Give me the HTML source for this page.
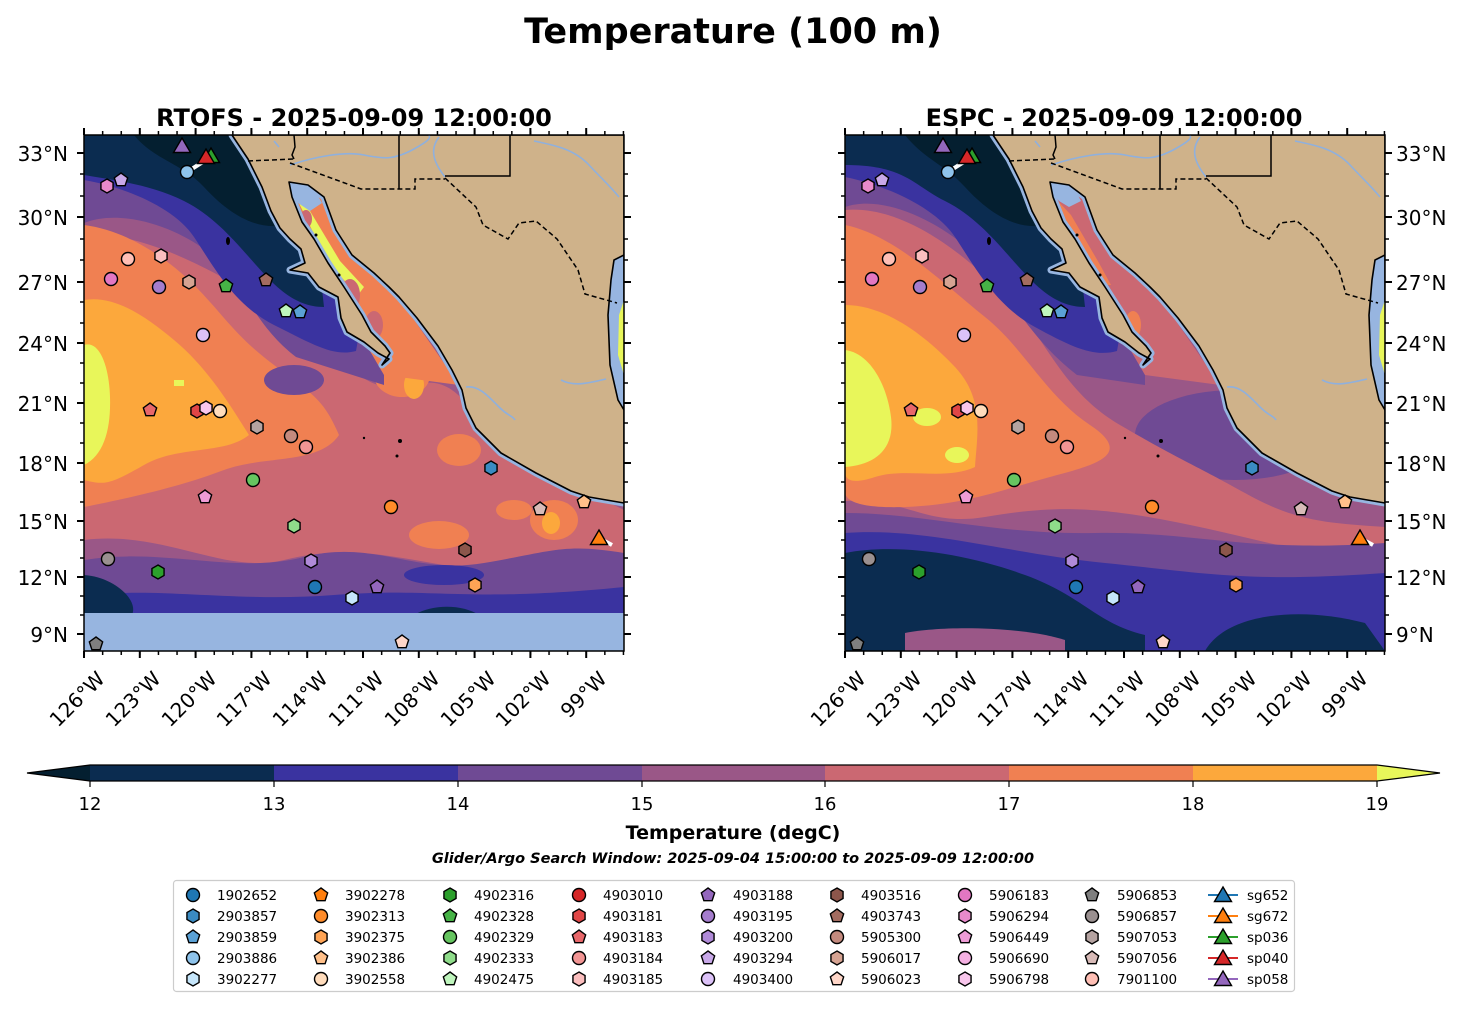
<!DOCTYPE html>
<html><head><meta charset="utf-8"><style>
html,body{margin:0;padding:0;background:#fff;}
svg{display:block;font-family:"DejaVu Sans","Liberation Sans",sans-serif;}
</style></head><body>
<svg width="1467" height="1014" viewBox="0 0 1467 1014" xmlns="http://www.w3.org/2000/svg">
<defs>
<clipPath id="pc"><rect x="0" y="0" width="540" height="516"/></clipPath>
<path id="c" d="M0,-6.5 A6.5,6.5 0 1 1 0,6.5 A6.5,6.5 0 1 1 0,-6.5Z" stroke="#000" stroke-width="1.4"/>
<path id="h" d="M0,-7 L6.06,-3.5 L6.06,3.5 L0,7 L-6.06,3.5 L-6.06,-3.5Z" stroke="#000" stroke-width="1.4"/>
<path id="p" d="M0,-7 L6.66,-2.16 L4.11,5.66 L-4.11,5.66 L-6.66,-2.16Z" stroke="#000" stroke-width="1.4"/>
<path id="t" d="M0,-9 L8.5,5.5 L-8.5,5.5Z" stroke="#000" stroke-width="1.4"/>

<path id="coastp" d="M148,0 L164,24 178,52 187,76 196,93 206,104 217,114 221,128 206,135 224,138 235,152 254,162 257,183 263,197 280,207 294,218 305,224 298,230 306,218 301,211 287,197 278,180 260,152 244,128 230,104 218,87 208,62 205,47 224,50 240,62 252,95 268,120 290,138 305,152 315,162 333,183 354,211 368,235 378,255 382,273 392,293 417,318 452,338 487,356 505,362 540,368 L540,0Z"/>

<g id="land">
<use href="#coastp" fill="none" stroke="#97b5e0" stroke-width="7" stroke-linejoin="round"/>
<use href="#coastp" fill="#cfb28a" stroke="#000" stroke-width="1.6" stroke-linejoin="round"/>
<path d="M540,120 L530,125 L527,145 L524,180 L526,230 L534,265 L540,275Z" fill="#97b5e0" stroke="#000" stroke-width="1.6"/>
<path d="M540,165 L535,180 L534,220 L540,240Z" fill="#e8f65a"/>
<g fill="none" stroke="#8fb0dd" stroke-width="1.6">
<path d="M206,30 C230,22 260,16 280,20 S310,25 330,14 S345,2 345,0"/>
<path d="M355,2 C345,15 350,28 361,42"/>
<path d="M450,6 C470,10 490,14 505,30 S525,50 535,62"/>
<path d="M382,252 C395,250 405,262 415,272 S428,280 431,285"/>
<path d="M477,245 C490,252 505,248 522,244"/>
<path d="M190,6 L195,12"/>
</g>
<g fill="none" stroke="#000" stroke-width="1.5">
<path d="M210,0 L211,12 L208,20 L210,24"/>
<path d="M315,0 L315,54"/>
<path d="M361,41 L426,41 L426,0"/>
</g>
<g fill="none" stroke="#000" stroke-width="1.5" stroke-dasharray="5,3">
<path d="M164,26 L210,24"/>
<path d="M206,28 L277,54 L331,54 L331,44 L361,44"/>
<path d="M361,43 L392,72 L399,90 L424,104 L435,88 L452,86 L473,104 L494,135 L501,159 L533,168"/>
</g>
<g fill="#000"><circle cx="316" cy="306" r="2"/><circle cx="313" cy="321" r="1.5"/><circle cx="280" cy="303" r="1.2"/><ellipse cx="144" cy="106" rx="2" ry="4"/><circle cx="232" cy="100" r="1.5"/><circle cx="255" cy="140" r="1.5"/></g>
</g>

<g id="marks">
<line x1="103" y1="37" x2="122" y2="25" stroke="#fff" stroke-width="4"/>
<line x1="515" y1="403" x2="528" y2="410" stroke="#fff" stroke-width="4"/>
<use href="#c" x="103" y="37" fill="#8ec3eb"/>
<use href="#h" x="23" y="51" fill="#e88acb"/>
<use href="#p" x="37" y="45" fill="#c8a8e8"/>
<use href="#c" x="44" y="124" fill="#ffbfb5"/>
<use href="#h" x="77" y="121" fill="#fbbebe"/>
<use href="#c" x="27" y="144" fill="#e377c2"/>
<use href="#c" x="75" y="152" fill="#a57dcd"/>
<use href="#h" x="105" y="147" fill="#d6a392"/>
<use href="#p" x="142" y="151" fill="#46b346"/>
<use href="#p" x="182" y="145" fill="#a36c60"/>
<use href="#p" x="202" y="176" fill="#bff5bd"/>
<use href="#p" x="216" y="177" fill="#5aa1d6"/>
<use href="#c" x="119" y="200" fill="#dcc2f8"/>
<use href="#p" x="66" y="275" fill="#e8676a"/>
<use href="#h" x="113" y="276" fill="#e04646"/>
<use href="#h" x="122" y="273" fill="#f8c6ec"/>
<use href="#c" x="136" y="276" fill="#ffdcbc"/>
<use href="#h" x="173" y="292" fill="#b5a3a1"/>
<use href="#c" x="207" y="301" fill="#c48a7e"/>
<use href="#c" x="222" y="312" fill="#f29594"/>
<use href="#c" x="169" y="345" fill="#66c560"/>
<use href="#p" x="121" y="362" fill="#ee9cd6"/>
<use href="#h" x="210" y="391" fill="#8fdc8a"/>
<use href="#h" x="407" y="333" fill="#3a8bc2"/>
<use href="#c" x="307" y="372" fill="#ff8c2a"/>
<use href="#p" x="456" y="374" fill="#d8bbb8"/>
<use href="#p" x="500" y="367" fill="#ffc08a"/>
<use href="#c" x="24" y="424" fill="#9a9090"/>
<use href="#h" x="74" y="437" fill="#2ca02c"/>
<use href="#h" x="227" y="426" fill="#b08ad8"/>
<use href="#h" x="381" y="415" fill="#8c564b"/>
<use href="#c" x="231" y="452" fill="#1f77b4"/>
<use href="#p" x="293" y="452" fill="#9467bd"/>
<use href="#h" x="268" y="463" fill="#c6e6fb"/>
<use href="#h" x="391" y="450" fill="#ffa455"/>
<use href="#p" x="12" y="509" fill="#7f7f7f"/>
<use href="#p" x="318" y="507" fill="#ffd6c8"/>
<use href="#t" x="98" y="12" fill="#9467bd"/>
<use href="#t" x="127" y="22" fill="#2ca02c"/>
<use href="#t" x="122" y="23" fill="#d62728"/>
<use href="#t" x="515" y="404" fill="#ff7f0e"/>
</g>

<g id="lt">
<path d="M0,153h7M0,217h7M0,282h7M0,343h7M0,403h7M0,463h7M0,521h7M0,577h7M0,634h7" stroke="#000" stroke-width="2"/>
<path d="M3,174h4M3,196h4M3,239h4M3,260h4M3,302h4M3,323h4M3,363h4M3,383h4M3,423h4M3,443h4M3,482h4M3,502h4M3,540h4M3,558h4M3,596h4M3,615h4" stroke="#000" stroke-width="1.5"/>
</g>
<pattern id="mj" patternUnits="userSpaceOnUse" x="83" y="0" width="55.8" height="20"><rect x="0" y="0" width="2" height="20" fill="#000"/></pattern>
<pattern id="mn" patternUnits="userSpaceOnUse" x="83.3" y="0" width="18.6" height="20"><rect x="0" y="0" width="1.5" height="20" fill="#000"/></pattern>
<pattern id="mj2" patternUnits="userSpaceOnUse" x="844" y="0" width="55.8" height="20"><rect x="0" y="0" width="2" height="20" fill="#000"/></pattern>
<pattern id="mn2" patternUnits="userSpaceOnUse" x="844.3" y="0" width="18.6" height="20"><rect x="0" y="0" width="1.5" height="20" fill="#000"/></pattern>
</defs>

<text x="733" y="43" font-size="35" font-weight="bold" text-anchor="middle">Temperature (100 m)</text>
<text x="354" y="126" font-size="24" font-weight="bold" text-anchor="middle">RTOFS - 2025-09-09 12:00:00</text>
<text x="1114" y="126" font-size="24" font-weight="bold" text-anchor="middle">ESPC - 2025-09-09 12:00:00</text>

<!-- LEFT PANEL -->
<g transform="translate(84,135)">
<g clip-path="url(#pc)">
<rect width="540" height="516" fill="#9a5787"/>
<path d="M0,100 C60,95 140,140 200,180 S280,265 330,250 S390,295 430,320 L490,350 540,375 L540,425 C480,410 420,440 360,430 S260,410 200,425 S80,395 0,405Z" fill="#cb6872"/>
<path d="M0,90 C40,95 80,120 110,150 S150,200 190,230 S240,265 255,300 C235,330 180,320 140,335 S60,360 0,372Z" fill="#f08052"/>
<ellipse cx="318" cy="240" rx="28" ry="22" fill="#f08052"/>
<ellipse cx="375" cy="315" rx="22" ry="16" fill="#f08052"/>
<ellipse cx="470" cy="385" rx="24" ry="20" fill="#f08052"/>
<ellipse cx="355" cy="400" rx="30" ry="14" fill="#f08052"/>
<ellipse cx="430" cy="375" rx="18" ry="10" fill="#f08052"/>
<path d="M0,165 C30,160 60,180 90,205 S140,260 165,300 C140,320 95,310 60,330 S20,350 0,345Z" fill="#fca83c"/>
<ellipse cx="330" cy="250" rx="10" ry="14" fill="#fca83c"/>
<ellipse cx="467" cy="388" rx="9" ry="11" fill="#fca83c"/>
<path d="M0,210 C15,205 25,230 26,262 S20,320 0,330Z" fill="#e8f65a"/>
<rect x="90" y="245" width="10" height="6" fill="#e8f65a"/>
<path d="M0,88 C40,72 100,95 130,122 S170,190 212,222 L300,250 L300,160 L240,60 L148,0 L0,0Z" fill="#6f4a94"/>
<path d="M0,425 C80,412 150,440 220,422 S330,440 400,428 S480,408 540,418 L540,516 L0,516Z" fill="#6f4a94"/>
<ellipse cx="210" cy="245" rx="30" ry="15" fill="#6f4a94"/>
<path d="M0,45 C40,52 90,72 110,102 S150,170 190,190 S250,222 272,216 L282,160 L222,50 L148,0 L0,0Z" fill="#3a33a0"/>
<path d="M0,462 C60,450 150,468 250,460 S380,468 540,452 L540,516 L0,516Z" fill="#3a33a0"/>
<ellipse cx="360" cy="440" rx="40" ry="10" fill="#3a33a0"/>
<path d="M0,0 L148,0 L232,100 L240,172 C210,172 190,150 172,130 S132,82 100,66 S30,45 0,40Z" fill="#0b2c50"/>
<path d="M0,440 C30,442 55,465 48,480 L0,480Z" fill="#0b2c50"/>
<path d="M330,480 C350,468 380,470 395,480Z" fill="#0b2c50"/>
<path d="M50,0 L148,0 L200,90 C170,96 142,76 120,52 S70,25 50,0Z" fill="#041f30"/>
<rect x="0" y="478" width="540" height="38" fill="#97b5e0"/>
<path d="M200,40 L240,50 L320,170 L375,250 L300,240 L230,120Z" fill="#f08052"/>
<path d="M212,62 L226,76 L256,126 L280,152 L274,160 L244,128Z" fill="#e8f65a"/>
<ellipse cx="266" cy="160" rx="10" ry="16" fill="#cb6872"/>
<ellipse cx="290" cy="190" rx="9" ry="14" fill="#cb6872"/>
<ellipse cx="222" cy="84" rx="6" ry="9" fill="#cb6872"/>
<path d="M203,44 L226,47 L238,68 L226,76 L214,68 L208,58Z" fill="#97b5e0"/>
<use href="#land"/>
<use href="#marks"/>
</g>
<rect width="540" height="516" fill="none" stroke="#000" stroke-width="1.5"/>
</g>

<!-- RIGHT PANEL -->
<g transform="translate(845,135)">
<g clip-path="url(#pc)">
<rect width="540" height="516" fill="#9a5787"/>
<ellipse cx="390" cy="300" rx="100" ry="45" fill="#6f4a94"/>
<path d="M0,75 C60,70 120,120 160,160 S215,255 275,290 S350,330 400,358 S480,388 540,392 L540,430 C460,420 400,400 320,385 S200,372 140,382 S60,362 0,366Z" fill="#cb6872"/>
<path d="M0,90 C50,100 100,150 140,182 S200,260 245,290 S250,330 205,342 S120,370 60,372 S0,360 0,356Z" fill="#f08052"/>
<path d="M0,170 C40,170 80,200 110,232 S132,300 130,332 C100,346 60,332 30,342 S0,340 0,336Z" fill="#fca83c"/>
<path d="M0,215 C25,218 42,250 46,282 S30,330 0,332Z" fill="#e8f65a"/>
<ellipse cx="82" cy="282" rx="14" ry="9" fill="#e8f65a"/>
<ellipse cx="112" cy="320" rx="12" ry="8" fill="#e8f65a"/>
<path d="M0,72 C40,58 100,90 130,120 S180,200 232,240 L300,250 L300,160 L240,60 L148,0 L0,0Z" fill="#6f4a94"/>
<path d="M0,378 C80,378 150,400 250,398 S400,418 540,408 L540,516 L0,516Z" fill="#6f4a94"/>
<path d="M0,42 C40,50 90,72 110,102 S150,170 190,192 S250,222 272,216 L282,160 L222,50 L148,0 L0,0Z" fill="#3a33a0"/>
<path d="M0,398 C80,392 160,418 260,428 S400,448 540,438 L540,516 L0,516Z" fill="#3a33a0"/>
<path d="M0,0 L148,0 L232,100 L240,172 C210,172 190,150 172,130 S132,82 100,66 S60,30 0,30Z" fill="#0b2c50"/>
<path d="M0,418 C50,408 120,418 180,440 S250,488 300,500 L300,516 L0,516Z" fill="#0b2c50"/>
<path d="M360,516 C380,480 450,470 520,488 L540,516Z" fill="#0b2c50"/>
<path d="M60,498 C100,490 180,492 220,505 L220,516 L60,516Z" fill="#9a5787"/>
<path d="M60,0 L148,0 L200,90 C170,96 142,76 120,52 S80,25 60,0Z" fill="#041f30"/>
<path d="M200,40 L240,50 L320,170 L375,250 L300,240 L230,120Z" fill="#cb6872"/>
<path d="M212,65 L226,80 L254,128 L266,150 L256,150 L236,120Z" fill="#f08052"/>
<ellipse cx="288" cy="190" rx="8" ry="14" fill="#f08052"/>
<path d="M203,44 L226,47 L236,66 L224,72 L214,66 L208,58Z" fill="#97b5e0"/>
<use href="#land"/>
<use href="#marks"/>
</g>
<rect width="540" height="516" fill="none" stroke="#000" stroke-width="1.5"/>
</g>

<!-- ticks -->
<rect x="83" y="128" width="545" height="7" fill="url(#mj)"/>
<rect x="83" y="131" width="545" height="4" fill="url(#mn)"/>
<rect x="83" y="651" width="545" height="7" fill="url(#mj)"/>
<rect x="83" y="651" width="545" height="4" fill="url(#mn)"/>
<rect x="844" y="128" width="545" height="7" fill="url(#mj2)"/>
<rect x="844" y="131" width="545" height="4" fill="url(#mn2)"/>
<rect x="844" y="651" width="545" height="7" fill="url(#mj2)"/>
<rect x="844" y="651" width="545" height="4" fill="url(#mn2)"/>
<use href="#lt" transform="translate(77,0)"/>
<use href="#lt" transform="translate(631,0) scale(-1,1)"/>
<use href="#lt" transform="translate(838,0)"/>
<use href="#lt" transform="translate(1392,0) scale(-1,1)"/>

<g font-size="20" text-anchor="end">
<text x="68" y="161">33°N</text><text x="68" y="225">30°N</text><text x="68" y="290">27°N</text><text x="68" y="351">24°N</text><text x="68" y="411">21°N</text><text x="68" y="471">18°N</text><text x="68" y="529">15°N</text><text x="68" y="585">12°N</text><text x="68" y="642">9°N</text>
</g>
<g font-size="20" text-anchor="start">
<text x="1396" y="161">33°N</text><text x="1396" y="225">30°N</text><text x="1396" y="290">27°N</text><text x="1396" y="351">24°N</text><text x="1396" y="411">21°N</text><text x="1396" y="471">18°N</text><text x="1396" y="529">15°N</text><text x="1396" y="585">12°N</text><text x="1396" y="642">9°N</text>
</g>
<g font-size="20" text-anchor="end">
<text transform="translate(106,680) rotate(-45)">126°W</text>
<text transform="translate(162,680) rotate(-45)">123°W</text>
<text transform="translate(218,680) rotate(-45)">120°W</text>
<text transform="translate(273,680) rotate(-45)">117°W</text>
<text transform="translate(329,680) rotate(-45)">114°W</text>
<text transform="translate(385,680) rotate(-45)">111°W</text>
<text transform="translate(441,680) rotate(-45)">108°W</text>
<text transform="translate(497,680) rotate(-45)">105°W</text>
<text transform="translate(552,680) rotate(-45)">102°W</text>
<text transform="translate(608,680) rotate(-45)">99°W</text>
<text transform="translate(867,680) rotate(-45)">126°W</text>
<text transform="translate(923,680) rotate(-45)">123°W</text>
<text transform="translate(979,680) rotate(-45)">120°W</text>
<text transform="translate(1034,680) rotate(-45)">117°W</text>
<text transform="translate(1090,680) rotate(-45)">114°W</text>
<text transform="translate(1146,680) rotate(-45)">111°W</text>
<text transform="translate(1202,680) rotate(-45)">108°W</text>
<text transform="translate(1258,680) rotate(-45)">105°W</text>
<text transform="translate(1313,680) rotate(-45)">102°W</text>
<text transform="translate(1369,680) rotate(-45)">99°W</text>
</g>

<!-- colorbar -->
<g>
<path d="M90,765 L27,773 L90,781Z" fill="#041f30"/>
<rect x="90" y="765" width="184" height="16" fill="#0b2c50"/>
<rect x="274" y="765" width="184" height="16" fill="#3a33a0"/>
<rect x="458" y="765" width="184" height="16" fill="#6f4a94"/>
<rect x="642" y="765" width="183" height="16" fill="#9a5787"/>
<rect x="825" y="765" width="184" height="16" fill="#cb6872"/>
<rect x="1009" y="765" width="184" height="16" fill="#f08052"/>
<rect x="1193" y="765" width="184" height="16" fill="#fca83c"/>
<path d="M1377,765 L1440,773 L1377,781Z" fill="#e8f65a"/>
<path d="M90,765 L27,773 L90,781 L1377,781 L1440,773 L1377,765Z" fill="none" stroke="#000" stroke-width="1.2"/>
<path d="M90,781v6M274,781v6M458,781v6M642,781v6M825,781v6M1009,781v6M1193,781v6M1377,781v6" stroke="#000" stroke-width="1.2"/>
<g font-size="18" text-anchor="middle">
<text x="90" y="810">12</text><text x="274" y="810">13</text><text x="458" y="810">14</text><text x="642" y="810">15</text><text x="825" y="810">16</text><text x="1009" y="810">17</text><text x="1193" y="810">18</text><text x="1377" y="810">19</text>
</g>
<text x="733" y="839" font-size="19" font-weight="bold" text-anchor="middle">Temperature (degC)</text>
<text x="733" y="863" font-size="14.5" font-weight="bold" font-style="italic" text-anchor="middle">Glider/Argo Search Window: 2025-09-04 15:00:00 to 2025-09-09 12:00:00</text>
</g>

<!-- legend -->
<rect x="173.5" y="880.5" width="1121" height="111" rx="3" fill="#fff" stroke="#cccccc" stroke-width="1.2"/>
<g font-size="13.5">
<g transform="translate(193,0)">
<use href="#c" y="895" fill="#1f77b4"/><use href="#h" y="916" fill="#3a8bc2"/><use href="#p" y="937" fill="#5aa1d6"/><use href="#c" y="958" fill="#8ec3eb"/><use href="#h" y="979" fill="#c6e6fb"/>
<text x="24" y="900">1902652</text><text x="24" y="921">2903857</text><text x="24" y="942">2903859</text><text x="24" y="963">2903886</text><text x="24" y="984">3902277</text>
</g>
<g transform="translate(321,0)">
<use href="#p" y="895" fill="#ff7f0e"/><use href="#c" y="916" fill="#ff8c2a"/><use href="#h" y="937" fill="#ffa455"/><use href="#p" y="958" fill="#ffc08a"/><use href="#c" y="979" fill="#ffdcbc"/>
<text x="24" y="900">3902278</text><text x="24" y="921">3902313</text><text x="24" y="942">3902375</text><text x="24" y="963">3902386</text><text x="24" y="984">3902558</text>
</g>
<g transform="translate(450,0)">
<use href="#h" y="895" fill="#2ca02c"/><use href="#p" y="916" fill="#46b346"/><use href="#c" y="937" fill="#66c560"/><use href="#h" y="958" fill="#8fdc8a"/><use href="#p" y="979" fill="#bff5bd"/>
<text x="24" y="900">4902316</text><text x="24" y="921">4902328</text><text x="24" y="942">4902329</text><text x="24" y="963">4902333</text><text x="24" y="984">4902475</text>
</g>
<g transform="translate(579,0)">
<use href="#c" y="895" fill="#d62728"/><use href="#h" y="916" fill="#e04646"/><use href="#p" y="937" fill="#e8676a"/><use href="#c" y="958" fill="#f29594"/><use href="#h" y="979" fill="#fbbebe"/>
<text x="24" y="900">4903010</text><text x="24" y="921">4903181</text><text x="24" y="942">4903183</text><text x="24" y="963">4903184</text><text x="24" y="984">4903185</text>
</g>
<g transform="translate(708,0)">
<use href="#p" y="895" fill="#9467bd"/><use href="#c" y="916" fill="#a57dcd"/><use href="#h" y="937" fill="#b08ad8"/><use href="#p" y="958" fill="#c8a8e8"/><use href="#c" y="979" fill="#dcc2f8"/>
<text x="25" y="900">4903188</text><text x="25" y="921">4903195</text><text x="25" y="942">4903200</text><text x="25" y="963">4903294</text><text x="25" y="984">4903400</text>
</g>
<g transform="translate(837,0)">
<use href="#h" y="895" fill="#8c564b"/><use href="#p" y="916" fill="#a36c60"/><use href="#c" y="937" fill="#c48a7e"/><use href="#h" y="958" fill="#d6a392"/><use href="#p" y="979" fill="#ffd6c8"/>
<text x="24" y="900">4903516</text><text x="24" y="921">4903743</text><text x="24" y="942">5905300</text><text x="24" y="963">5906017</text><text x="24" y="984">5906023</text>
</g>
<g transform="translate(965,0)">
<use href="#c" y="895" fill="#e377c2"/><use href="#h" y="916" fill="#e88acb"/><use href="#p" y="937" fill="#ee9cd6"/><use href="#c" y="958" fill="#f4b0e2"/><use href="#h" y="979" fill="#f8c6ec"/>
<text x="24" y="900">5906183</text><text x="24" y="921">5906294</text><text x="24" y="942">5906449</text><text x="24" y="963">5906690</text><text x="24" y="984">5906798</text>
</g>
<g transform="translate(1092,0)">
<use href="#p" y="895" fill="#7f7f7f"/><use href="#c" y="916" fill="#9a9090"/><use href="#h" y="937" fill="#b5a3a1"/><use href="#p" y="958" fill="#d8bbb8"/><use href="#c" y="979" fill="#ffbfb5"/>
<text x="25" y="900">5906853</text><text x="25" y="921">5906857</text><text x="25" y="942">5907053</text><text x="25" y="963">5907056</text><text x="25" y="984">7901100</text>
</g>
<g transform="translate(1223,0)">
<path d="M-15,895h30" stroke="#1f77b4" stroke-width="2"/><use href="#t" y="896" fill="#1f77b4"/>
<path d="M-15,916h30" stroke="#ff7f0e" stroke-width="2"/><use href="#t" y="917" fill="#ff7f0e"/>
<path d="M-15,937h30" stroke="#2ca02c" stroke-width="2"/><use href="#t" y="938" fill="#2ca02c"/>
<path d="M-15,958h30" stroke="#d62728" stroke-width="2"/><use href="#t" y="959" fill="#d62728"/>
<path d="M-15,979h30" stroke="#9467bd" stroke-width="2"/><use href="#t" y="980" fill="#9467bd"/>
<text x="24" y="900">sg652</text><text x="24" y="921">sg672</text><text x="24" y="942">sp036</text><text x="24" y="963">sp040</text><text x="24" y="984">sp058</text>
</g>
</g>
</svg>
</body></html>
